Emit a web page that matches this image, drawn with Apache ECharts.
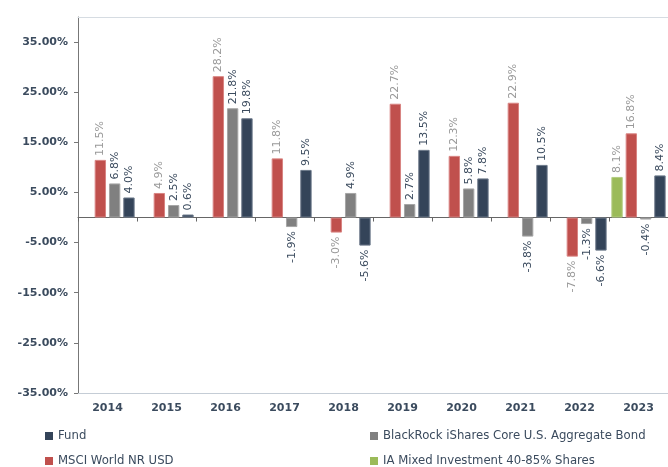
<!DOCTYPE html>
<html>
<head>
<meta charset="utf-8">
<script src="https://cdn.jsdelivr.net/npm/echarts@6/dist/echarts.min.js"></script>
<style>
    html, body { margin: 0; padding: 0; background: #fff; }
    #chart { width: 668px; height: 467px; }
</style>
</head>
<body>
<div id="chart"></div>
<script>
    // calendar years on the x axis
    var years = ['2014', '2015', '2016', '2017', '2018', '2019', '2020', '2021', '2022', '2023'];

    // annual returns, %
    var fund = [4.0, 0.6, 19.8, 9.5, -5.6, 13.5, 7.8, 10.5, -6.6, 8.4];
    var blackrock = [6.8, 2.5, 21.8, -1.9, 4.9, 2.7, 5.8, -3.8, -1.3, -0.4];
    var msci = [11.5, 4.9, 28.2, 11.8, -3.0, 22.7, 12.3, 22.9, -7.8, 16.8];
    var iaMixed = [null, null, null, null, null, null, null, null, null, 8.1];

    var yTicks = [-35, -25, -15, -5, 5, 15, 25, 35];

    var textDark = '#3b4b5e';

    // put the label above positive bars and below negative ones
    function withLabels(values) {
        return values.map(function (v) {
            if (v === null) return null;
            if (v < 0) {
                return { value: v, label: { position: 'bottom', align: 'right' } };
            }
            return { value: v };
        });
    }

    function barSeries(name, values, color, border, labelColor) {
        return {
            name: name,
            type: 'bar',
            barGap: '26%',
            barCategoryGap: '8%',
            itemStyle: { color: color, borderColor: border, borderWidth: 1 },
            label: {
                show: true,
                position: 'top',
                rotate: 90,
                align: 'left',
                verticalAlign: 'middle',
                distance: 4,
                color: labelColor,
                fontFamily: 'DejaVu Sans',
                fontSize: 11,
                formatter: function (p) {
                    return p.value.toFixed(1) + '%';
                }
            },
            data: withLabels(values)
        };
    }

    function legendColumn(left, names) {
        return {
            orient: 'vertical',
            left: left,
            top: 430,
            height: 60,
            padding: 0,
            itemWidth: 8,
            itemHeight: 8,
            itemGap: 13,
            icon: 'rect',
            itemStyle: { borderWidth: 0 },
            textStyle: { color: textDark, fontSize: 11.7, fontFamily: 'DejaVu Sans' },
            data: names
        };
    }

    var myChart = echarts.init(document.getElementById('chart'));

    var option = {
        animation: false,
        textStyle: { fontFamily: 'DejaVu Sans' },
        grid: {
            left: 78,
            top: 17,
            width: 596,
            bottom: 74
        },
        legend: [
            legendColumn(45, ['Fund', 'MSCI World NR USD']),
            legendColumn(370, ['BlackRock iShares Core U.S. Aggregate Bond', 'IA Mixed Investment 40-85% Shares'])
        ],
        xAxis: [
            {
                // zero line with ticks between the years
                type: 'category',
                data: years,
                position: 'bottom',
                axisLine: { onZero: true, lineStyle: { color: '#666', width: 1 } },
                axisTick: { show: true, length: 4, lineStyle: { color: '#666' } },
                axisLabel: { show: false }
            },
            {
                // bottom axis carrying the year labels
                type: 'category',
                data: years,
                position: 'bottom',
                axisLine: { onZero: false, lineStyle: { color: '#c5cdd6' } },
                axisTick: { show: false },
                axisLabel: {
                    color: textDark,
                    fontWeight: 'bold',
                    fontSize: 11,
                    margin: 10
                }
            },
            {
                // light line along the top
                type: 'category',
                data: years,
                position: 'top',
                axisLine: { lineStyle: { color: '#d6dce2' } },
                axisTick: { show: false },
                axisLabel: { show: false }
            }
        ],
        yAxis: {
            type: 'value',
            min: yTicks[0],
            max: 40,
            interval: 10,
            axisLine: { show: true, lineStyle: { color: '#777' } },
            axisTick: { show: true, length: 4, lineStyle: { color: '#777' } },
            splitLine: { show: false },
            axisLabel: {
                showMaxLabel: false,
                color: textDark,
                fontWeight: 'bold',
                fontSize: 11,
                margin: 10,
                formatter: function (v) {
                    return v.toFixed(2) + '%';
                }
            }
        },
        series: [
            barSeries('IA Mixed Investment 40-85% Shares', iaMixed, '#9bbb59', '#b4cd82', '#999'),
            barSeries('MSCI World NR USD', msci, '#c0504d', '#d98583', '#999'),
            barSeries('BlackRock iShares Core U.S. Aggregate Bond', blackrock, '#808080', '#a6a6a6', textDark),
            barSeries('Fund', fund, '#344459', '#6d7a8b', textDark)
        ]
    };

    myChart.setOption(option);
</script>
</body>
</html>
